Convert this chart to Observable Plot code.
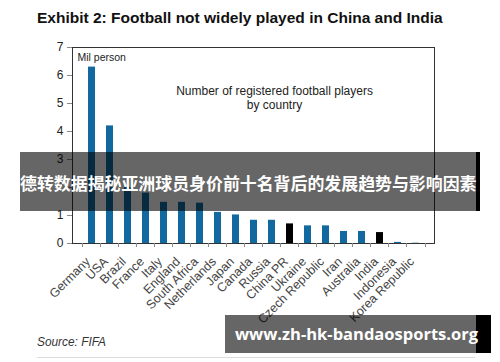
<!DOCTYPE html>
<html>
<head>
<meta charset="utf-8">
<script src="https://cdn.jsdelivr.net/npm/d3@7"></script>
<script src="https://cdn.jsdelivr.net/npm/@observablehq/plot@0.6"></script>
<style>
  html, body { margin: 0; padding: 0; background: #fff; }
  #wrap { position: relative; width: 500px; height: 362px; overflow: hidden; font-family: "Liberation Sans", Arial, sans-serif; }
  #chart { position: absolute; left: 0; top: 0; }
  .fit { position: absolute; white-space: nowrap; line-height: 1; }
  #title { left: 37px; top: 10px; font-size: 15px; font-weight: bold; color: #111; }
  #source { left: 37px; top: 337px; font-size: 11px; font-style: italic; color: #333; }
  #rule { position: absolute; left: 37px; top: 357px; width: 438px; height: 1px; background: #dcdcdc; }
  .banner { position: absolute; background: rgba(0,0,0,0.6); }
  .strip { position: absolute; top: 0; bottom: 0; right: 0; background: #000; }
  #b1 { left: 20px; top: 152px; width: 460px; height: 59px; }
  #b1 .strip { width: 4px; }
  #b2 { left: 225px; top: 315px; width: 266px; height: 38px; }
  #b2 .strip { width: 15px; }
  #t1 { left: 20px; top: 175px; color: #fff; font-weight: bold; font-family: "Noto Sans CJK SC", sans-serif; font-size: 17px; }
  #t2 { left: 235px; top: 326px; color: #fff; font-weight: bold; font-family: "Open Sans", sans-serif; font-size: 17px; }
</style>
</head>
<body>
<div id="wrap">
  <div id="chart"></div>
  <div class="fit" id="title">Exhibit 2: Football not widely played in China and India</div>
  <div class="fit" id="source">Source: FIFA</div>
  <div id="rule"></div>
  <div class="banner" id="b1"><div class="strip"></div></div>
  <div class="banner" id="b2"><div class="strip"></div></div>
  <div class="fit" id="t1">德转数据揭秘亚洲球员身价前十名背后的发展趋势与影响因素</div>
  <div class="fit" id="t2">www.zh-hk-bandaosports.org</div>
</div>
<script>
const countries = ["Germany","USA","Brazil","France","Italy","England","South Africa","Netherlands","Japan","Canada","Russia","China PR","Ukraine","Czech Republic","Iran","Australia","India","Indonesia","Korea Republic"];
const players = [6.3, 4.2, 2.0, 1.8, 1.47, 1.47, 1.44, 1.11, 1.02, 0.83, 0.83, 0.70, 0.63, 0.63, 0.43, 0.43, 0.39, 0.04, 0.01];
const highlighted = ["China PR", "India"];
const yTicks = [0, 1, 2, 3, 4, 5, 6, 7];
const unitLabel = "Mil person";
const noteLabel = "Number of registered football players\nby country";

const data = countries.map((c, i) => ({country: c, value: players[i]}));

const W = 500, H = 362, mL = 72, mR = 66, mT = 47, mB = 119;
const step = (W - mL - mR) / countries.length;

const chart = Plot.plot({
  width: W, height: H,
  marginLeft: mL, marginRight: mR, marginTop: mT, marginBottom: mB,
  style: {fontFamily: "Liberation Sans, Arial, sans-serif", fontSize: "11px", color: "#333", background: "transparent"},
  x: {domain: countries, padding: 0.62, label: null},
  y: {domain: [0, 7], label: null},
  marks: [
    Plot.barY(data, {x: "country", y: "value", fill: d => highlighted.includes(d.country) ? "#000" : "#11699f"}),
    Plot.frame({stroke: "#333", strokeWidth: 1}),
    Plot.axisY({ticks: yTicks, tickFormat: "d", tickSize: 5, tickPadding: 4, label: null, stroke: "#888", fill: "#222", fontSize: 12}),
    Plot.axisX({tickSize: 4, text: null, dx: -step / 2, stroke: "#888"}),
    Plot.axisX({ticks: [countries[countries.length - 1]], tickSize: 4, text: null, dx: step / 2, stroke: "#888"}),
    Plot.axisX({tickSize: 0, tickRotate: -45, tickPadding: 16, dx: -4, label: null, fill: "#444", fontSize: 12.5}),
    Plot.text([unitLabel], {frameAnchor: "top-left", dx: 5, dy: 6, fill: "#222", fontSize: 10.5}),
    Plot.text([noteLabel], {frameAnchor: "top", dx: 21, dy: 37, fill: "#222", fontSize: 12, lineHeight: 1.2})
  ]
});
document.getElementById("chart").appendChild(chart);

// fit text blocks to the widths seen in the reference
function fit(id, width) {
  const el = document.getElementById(id);
  const fs = parseFloat(getComputedStyle(el).fontSize);
  const w = el.getBoundingClientRect().width;
  el.style.fontSize = (fs * width / w) + "px";
}
fit("title", 406);
fit("source", 69);
fit("t1", 457);
fit("t2", 243);
</script>
</body>
</html>
